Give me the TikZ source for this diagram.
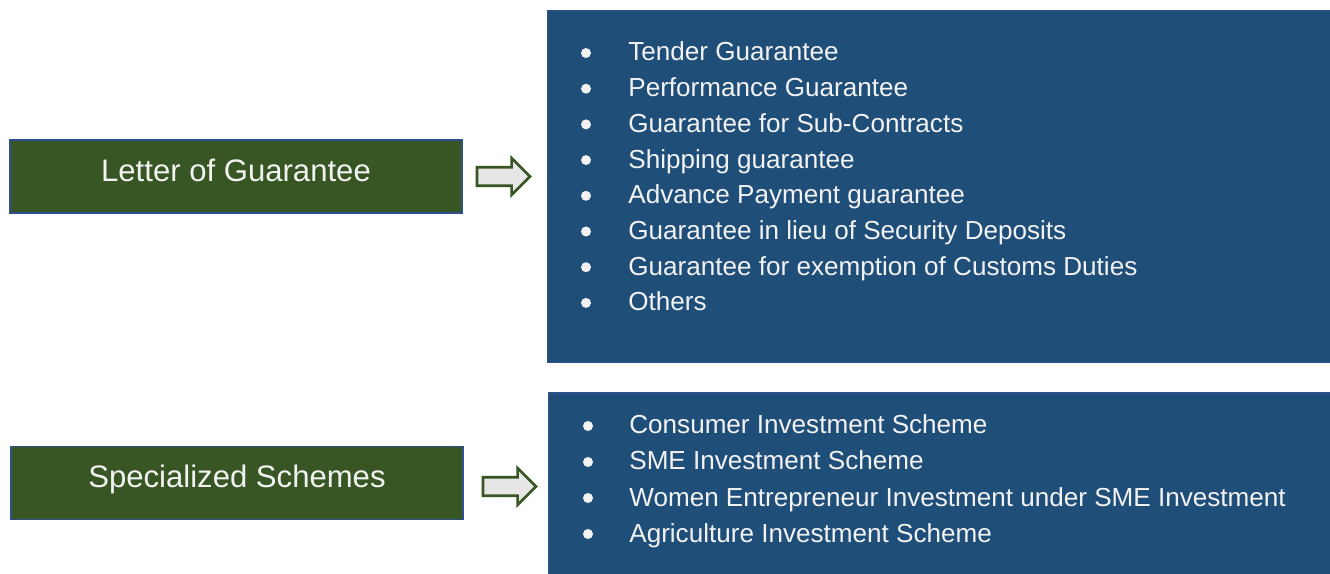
\documentclass[tikz,border=0pt]{standalone}
\usepackage{fontspec}
\setmainfont{Liberation Sans}
\usetikzlibrary{arrows.meta,positioning,shapes.arrows}
\definecolor{Leaf}{HTML}{375623}
\definecolor{Ocean}{HTML}{1F4E79}
\definecolor{Rim}{HTML}{2F528F}
\definecolor{Mist}{HTML}{E7E6E6}
\definecolor{Chalk}{HTML}{F2F2F2}
\begin{document}
\begin{tikzpicture}[x=.02cm,y=-.02cm,>=Latex,
head/.style={fill=Leaf,draw=Rim,line width=.9pt,text=Chalk,font=\fontsize{17.7}{21}\selectfont,
  minimum width=9.04cm,minimum height=1.46cm,text height=.73em,text depth=.18em,inner sep=0pt,outer sep=0pt},
panel/.style={fill=Ocean,draw=Rim,line width=.6pt,inner sep=0pt,outer sep=0pt},
item/.style={anchor=base west,text=Chalk,font=\fontsize{14.85}{18}\selectfont,inner sep=0pt},
blk/.style={single arrow,fill=Mist,draw=Leaf,line width=1.5pt,minimum height=1.06cm,minimum width=.68cm,
  single arrow head extend=.18cm,inner sep=0pt,outer sep=0pt,text height=.32cm,text depth=0pt}]
\useasboundingbox(0,0)rectangle(1330,574);
\clip(0,0)rectangle(1330,574);
% left headings
\node[head](lg)at(236,176.5){Letter of Guarantee};
\node[head](ss)at(237,483){Specialized Schemes};
% right panels, running off the page edge
\node[panel,minimum width=15.96cm,minimum height=7.06cm](lgp)at(946,186.5){};
\node[panel,minimum width=15.94cm,minimum height=3.94cm](ssp)at(946.5,491.5){};
% block arrows between heading and panel
\node[blk,right=.3cm of lg](la){};
\node[blk,right=.4cm of ss,yshift=-.07cm](sa){};
% guarantee types
\foreach \t[count=\i] in {Tender Guarantee,Performance Guarantee,Guarantee for Sub-Contracts,
  Shipping guarantee,Advance Payment guarantee,Guarantee in lieu of Security Deposits,
  Guarantee for exemption of Customs Duties,Others}{
  \fill[Chalk](586,{53+35.7*(\i-1)})circle(.1cm);
  \node[item](g\i)at(628,{61+35.7*(\i-1)}){\t};}
% scheme types
\foreach \t[count=\i] in {Consumer Investment Scheme,SME Investment Scheme,
  Women Entrepreneur Investment under SME Investment,Agriculture Investment Scheme}{
  \fill[Chalk](588,{426+36*(\i-1)})circle(.1cm);
  \node[item](s\i)at(629,{434+36*(\i-1)}){\t};}
\end{tikzpicture}
\end{document}
